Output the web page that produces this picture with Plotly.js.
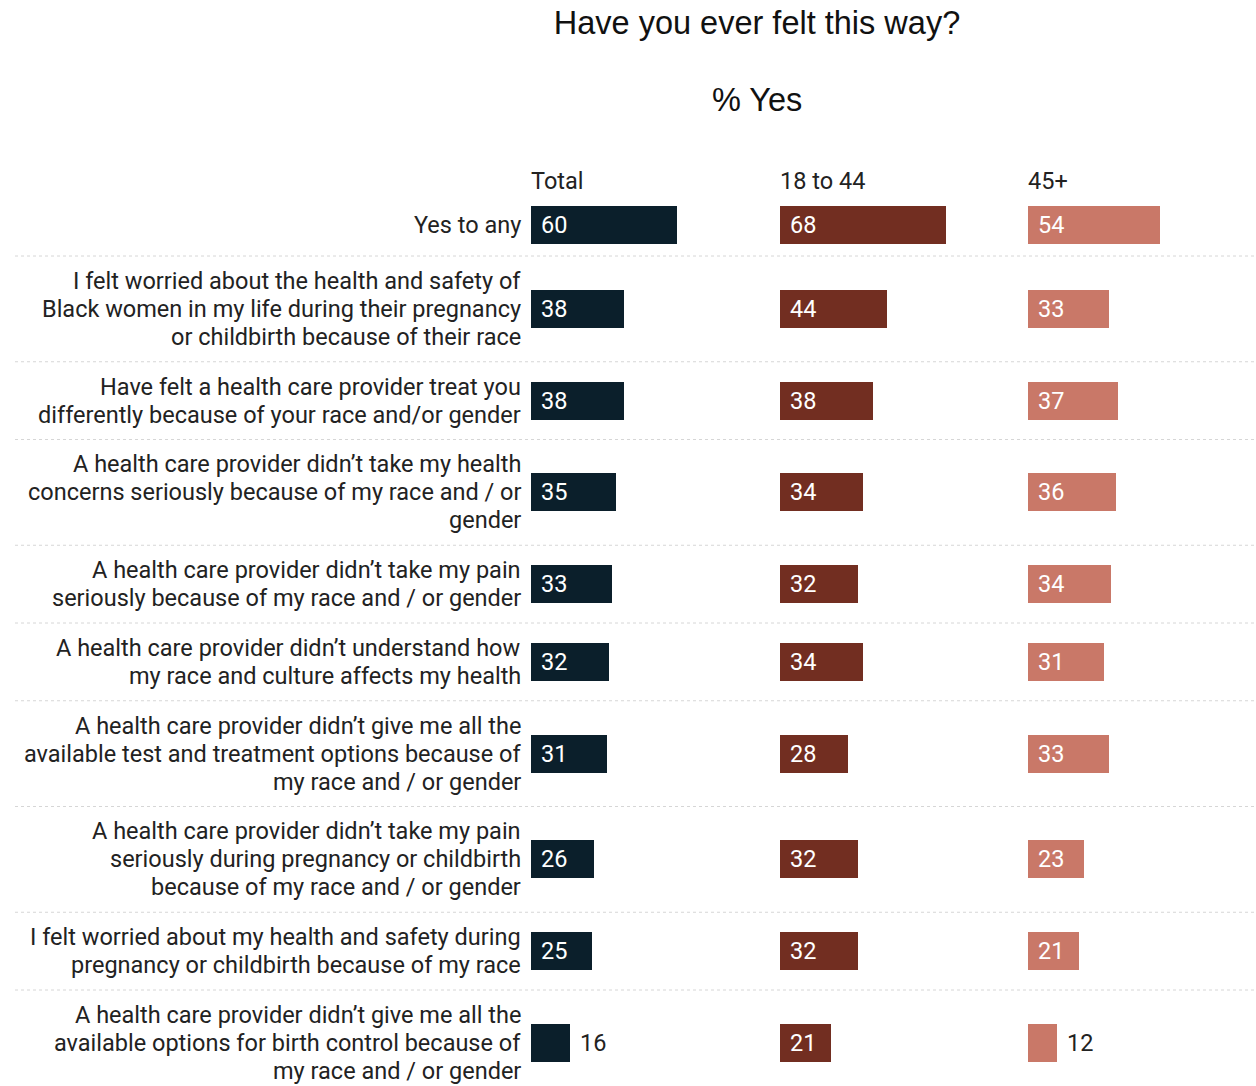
<!DOCTYPE html>
<html>
<head>
<meta charset="utf-8">
<script src="https://cdn.plot.ly/plotly-3.0.1.min.js"></script>
<style>html,body{margin:0;padding:0;background:#fff;}#chart{width:1256px;height:1086px;}</style>
</head>
<body>
<div id="chart"></div>
<script>
const categories = [
  "Yes to any",
  "I felt worried about the health and safety of<br>Black women in my life during their pregnancy<br>or childbirth because of their race",
  "Have felt a health care provider treat you<br>differently because of your race and/or gender",
  "A health care provider didn’t take my health<br>concerns seriously because of my race and / or<br>gender",
  "A health care provider didn’t take my pain<br>seriously because of my race and / or gender",
  "A health care provider didn’t understand how<br>my race and culture affects my health",
  "A health care provider didn’t give me all the<br>available test and treatment options because of<br>my race and / or gender",
  "A health care provider didn’t take my pain<br>seriously during pregnancy or childbirth<br>because of my race and / or gender",
  "I felt worried about my health and safety during<br>pregnancy or childbirth because of my race",
  "A health care provider didn’t give me all the<br>available options for birth control because of<br>my race and / or gender"
];
const columnNames = ["Total", "18 to 44", "45+"];
const totalValues = [60, 38, 38, 35, 33, 32, 31, 26, 25, 16];
const age18to44Values = [68, 44, 38, 34, 32, 34, 28, 32, 32, 21];
const age45plusValues = [54, 33, 37, 36, 34, 31, 33, 23, 21, 12];
const titleText = "Have you ever felt this way?";
const subtitleText = "% Yes";

(function () {
const W = 1256, H = 1086;
const PX_PER_UNIT = 2.44;
const BAR_H = 38;
const LINE_H = 28;
const FONT = "Roboto, 'Noto Sans', sans-serif";
const FS = 23.5;
const TITLE_FONT = "'Liberation Sans', Arial, sans-serif";
const colors = ["#0b1f2b", "#722e21", "#c97868"];
const series = [totalValues, age18to44Values, age45plusValues];
const axisStarts = [531, 780, 1028];
const axisWidth = 240;

// Row layout computed from number of label lines
let rowTop = 194;
const centers = [], bounds = [];
categories.forEach(c => {
  const lines = c.split("<br>").length;
  const h = Math.max(BAR_H + 24, LINE_H * lines + 21.75);
  centers.push(rowTop + h / 2);
  rowTop += h;
  bounds.push(rowTop);
});

const traces = series.map((vals, i) => ({
  type: "bar",
  orientation: "h",
  x: vals,
  y: centers,
  width: BAR_H,
  xaxis: i === 0 ? "x" : "x" + (i + 1),
  yaxis: "y",
  marker: {color: colors[i], line: {width: 0}},
  hoverinfo: "skip",
  showlegend: false
}));

const annotations = [];
categories.forEach((c, r) => {
  const lines = c.split("<br>");
  const n = lines.length;
  lines.forEach((ln, k) => {
    annotations.push({
      xref: "paper", yref: "y", x: 523 / W, y: centers[r] + (k - (n - 1) / 2) * LINE_H,
      xanchor: "right", yanchor: "middle", align: "right",
      text: ln, showarrow: false,
      font: {family: FONT, size: FS, color: "#222"}
    });
  });
});
series.forEach((vals, i) => {
  const xr = i === 0 ? "x" : "x" + (i + 1);
  annotations.push({
    xref: xr, yref: "y", x: 0, y: 181, xanchor: "left", yanchor: "middle",
    xshift: -2, text: columnNames[i], showarrow: false,
    font: {family: FONT, size: FS, color: "#222"}
  });
  vals.forEach((v, r) => {
    const inside = v * PX_PER_UNIT >= 45;
    annotations.push({
      xref: xr, yref: "y", x: inside ? 0 : v, y: centers[r],
      xanchor: "left", yanchor: "middle", xshift: 8,
      text: String(v), showarrow: false,
      font: {family: FONT, size: FS, color: inside ? "#ffffff" : "#222"}
    });
  });
});
annotations.push({
  xref: "paper", yref: "paper", x: 757 / W, y: 1 - 100 / H,
  xanchor: "center", yanchor: "middle", text: subtitleText, showarrow: false,
  font: {family: TITLE_FONT, size: 32.5, color: "#111"}
});

const shapes = bounds.slice(0, -1).map(b => ({
  type: "line", xref: "paper", yref: "y", x0: 15 / W, x1: 1, y0: b, y1: b,
  line: {color: "#d6d6d6", width: 1, dash: "dot"}, layer: "below"
}));

const mkX = (i) => {
  const x0 = axisStarts[i];
  const x1 = Math.min(W, x0 + axisWidth);
  return {
    domain: [x0 / W, x1 / W], range: [0, (x1 - x0) / PX_PER_UNIT],
    visible: false, fixedrange: true
  };
};

const layout = {
  width: W, height: H,
  margin: {l: 0, r: 0, t: 0, b: 0},
  paper_bgcolor: "#fff", plot_bgcolor: "rgba(0,0,0,0)",
  title: {
    text: titleText,
    x: 757 / W, xanchor: "center", xref: "paper",
    y: 1 - 23 / H, yref: "container", yanchor: "middle",
    font: {family: TITLE_FONT, size: 32.5, color: "#111"}
  },
  xaxis: mkX(0), xaxis2: mkX(1), xaxis3: mkX(2),
  yaxis: {range: [H, 0], visible: false, fixedrange: true, domain: [0, 1], anchor: "x"},
  bargap: 0,
  annotations: annotations,
  shapes: shapes
};

Plotly.newPlot("chart", traces, layout, {displayModeBar: false, staticPlot: true});
})();
</script>
</body>
</html>
